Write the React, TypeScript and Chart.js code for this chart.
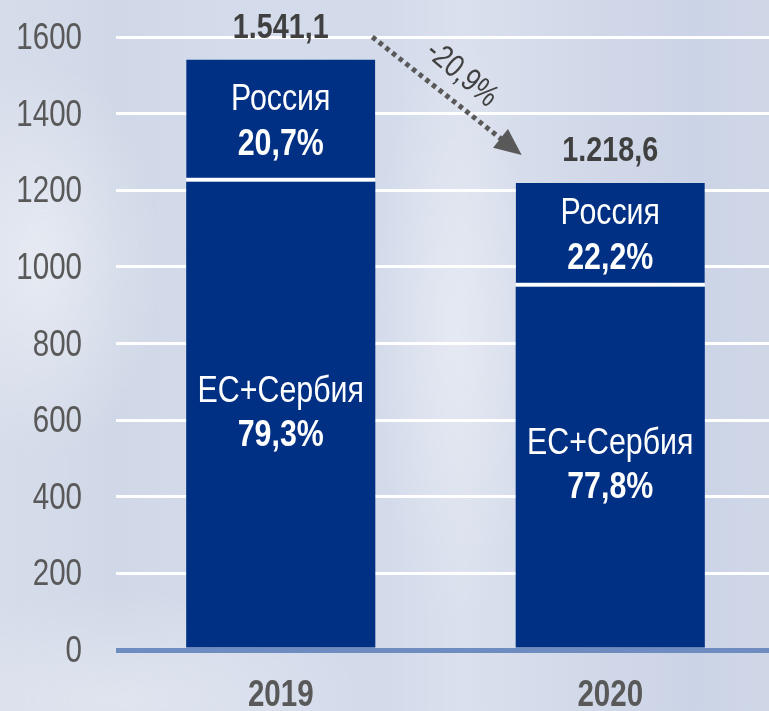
import React, { useEffect, useRef } from "react";
import { Chart, registerables } from "chart.js";

Chart.register(...registerables);

// ---- data ----
const years = ["2019", "2020"];
const totals = [1541.1, 1218.6];
const totalLabels = ["1.541,1", "1.218,6"];
const euValues = [1222.1, 948.1];
const ruValues = [319.0, 270.5];
const euShareLabels = ["79,3%", "77,8%"];
const ruShareLabels = ["20,7%", "22,2%"];
const euName = "ЕС+Сербия";
const ruName = "Россия";
const changeLabel = "-20,9%";
const yMin = 0;
const yMax = 1600;
const yStep = 200;

const FONT = '"Liberation Sans", Arial, sans-serif';
const SX = 0.82; // horizontal squeeze to imitate a narrow face
const NAVY = "#003084";

function txt(ctx: any, s: string, x: number, y: number, font: string, color: string, align: string) {
  ctx.save();
  ctx.font = font;
  ctx.fillStyle = color;
  ctx.textAlign = align;
  ctx.textBaseline = "alphabetic";
  ctx.translate(x, y);
  ctx.scale(SX, 1);
  ctx.fillText(s, 0, 0);
  ctx.restore();
}

const annotPlugin = {
  id: "annot",
  afterDatasetsDraw(chart: any) {
    const ctx = chart.ctx;
    const ys = chart.scales.y;
    const xs = chart.scales.x;
    const metaEu = chart.getDatasetMeta(0);
    const metaRu = chart.getDatasetMeta(1);

    // axis tick labels (from the library's scales)
    ys.ticks.forEach((t: any, i: number) => {
      txt(ctx, String(t.value), ys.right - 34, ys.getPixelForTick(i) + 12, `36px ${FONT}`, "#595959", "right");
    });
    xs.ticks.forEach((t: any, i: number) => {
      txt(ctx, String(xs.getLabelForValue(t.value)), xs.getPixelForTick(i), xs.top + 56, `bold 36px ${FONT}`, "#595959", "center");
    });

    for (let i = 0; i < years.length; i++) {
      const ru = metaRu.data[i];
      const eu = metaEu.data[i];
      const ruC = (ru.y + ru.base) / 2;
      const euC = (eu.y + eu.base) / 2;
      txt(ctx, ruName, ru.x, ruC - 11, `37px ${FONT}`, "#ffffff", "center");
      txt(ctx, ruShareLabels[i], ru.x, ruC + 34, `bold 37px ${FONT}`, "#ffffff", "center");
      txt(ctx, euName, eu.x, euC - 13, `37px ${FONT}`, "#ffffff", "center");
      txt(ctx, euShareLabels[i], eu.x, euC + 31, `bold 37px ${FONT}`, "#ffffff", "center");
      txt(ctx, totalLabels[i], ru.x, ys.getPixelForValue(totals[i]) - 22, `bold 35px ${FONT}`, "#404040", "center");
    }

    // arrow
    const b0 = metaRu.data[0];
    const b1 = metaRu.data[1];
    const sx = b0.x + b0.width / 2 - 3;
    const sy = ys.getPixelForValue(yMax);
    const tx = b1.x - b1.width / 2 + 6;
    const ty = ys.getPixelForValue(totals[1]) - 28;
    const dx = tx - sx, dy = ty - sy;
    const len = Math.sqrt(dx * dx + dy * dy);
    const ux = dx / len, uy = dy / len;
    const px = uy, py = -ux;
    ctx.save();
    ctx.strokeStyle = "#595959";
    ctx.lineWidth = 5;
    ctx.setLineDash([4.5, 4]);
    ctx.beginPath();
    ctx.moveTo(sx, sy);
    ctx.lineTo(tx - ux * 22, ty - uy * 22);
    ctx.stroke();
    ctx.setLineDash([]);
    ctx.fillStyle = "#595959";
    ctx.beginPath();
    ctx.moveTo(tx, ty);
    ctx.lineTo(tx - ux * 27 + px * 12, ty - uy * 27 + py * 12);
    ctx.lineTo(tx - ux * 27 - px * 12, ty - uy * 27 - py * 12);
    ctx.closePath();
    ctx.fill();
    // change label
    const mx = (sx + tx) / 2 + px * 26 - ux * 2;
    const my = (sy + ty) / 2 + py * 26 - uy * 2;
    ctx.translate(mx, my);
    ctx.rotate(Math.atan2(dy, dx) + 0.03);
    ctx.scale(SX, 1);
    ctx.fillStyle = "#404040";
    ctx.font = `32px ${FONT}`;
    ctx.textAlign = "center";
    ctx.textBaseline = "middle";
    ctx.fillText(changeLabel, 0, 0);
    ctx.restore();
  },
};

export default function App() {
  const ref = useRef<HTMLCanvasElement | null>(null);
  useEffect(() => {
    if (!ref.current) return;
    const chart = new Chart(ref.current, {
      type: "bar",
      data: {
        labels: years,
        datasets: [
          {
            label: euName,
            data: euValues,
            backgroundColor: NAVY,
            borderWidth: 0,
            barPercentage: 0.574,
            categoryPercentage: 1,
          },
          {
            label: ruName,
            data: ruValues,
            backgroundColor: NAVY,
            borderColor: "#ffffff",
            borderWidth: { top: 0, left: 0, right: 0, bottom: 4 },
            borderSkipped: false,
            barPercentage: 0.574,
            categoryPercentage: 1,
          },
        ],
      },
      options: {
        animation: false,
        responsive: true,
        maintainAspectRatio: false,
        layout: { padding: { top: 37, left: 0, right: 0, bottom: 0 } },
        plugins: { legend: { display: false }, tooltip: { enabled: false } },
        scales: {
          x: {
            stacked: true,
            grid: { display: false, drawTicks: false },
            border: { display: false },
            ticks: { display: false },
            afterFit: (s: any) => {
              s.height = 61;
            },
          },
          y: {
            stacked: true,
            min: yMin,
            max: yMax,
            grid: {
              drawTicks: false,
              color: (c: any) => (c.tick && c.tick.value === 0 ? "#6f8cc0" : "#ffffff"),
              lineWidth: (c: any) => (c.tick && c.tick.value === 0 ? 5 : 3),
            },
            border: { display: false },
            ticks: { stepSize: yStep, display: false },
            afterFit: (s: any) => {
              s.width = 116;
            },
          },
        },
      },
      plugins: [annotPlugin],
    });
    return () => chart.destroy();
  }, []);

  const bg =
    "radial-gradient(ellipse 120px 200px at 40px 260px, rgba(238,241,247,0.7), rgba(238,241,247,0) 100%)," +
    "radial-gradient(ellipse 80px 300px at 455px 330px, rgba(236,239,246,0.6), rgba(236,239,246,0) 100%)," +
    "radial-gradient(ellipse 240px 110px at 120px 700px, rgba(234,237,244,0.6), rgba(234,237,244,0) 100%)," +
    "linear-gradient(90deg, #d6dcea 0%, #d0d8e7 15%, #d4dbea 30%, #d3daea 50%, #dae0ed 60%, #d2d9e9 75%, #cbd4e6 90%, #cfd7e7 100%)";

  return (
    <div
      style={{
        position: "fixed",
        left: 0,
        top: 0,
        width: 769,
        height: 711,
        overflow: "hidden",
        background: bg,
      }}
    >
      <div style={{ position: "relative", width: 775, height: 711 }}>
        <canvas ref={ref} />
      </div>
    </div>
  );
}
